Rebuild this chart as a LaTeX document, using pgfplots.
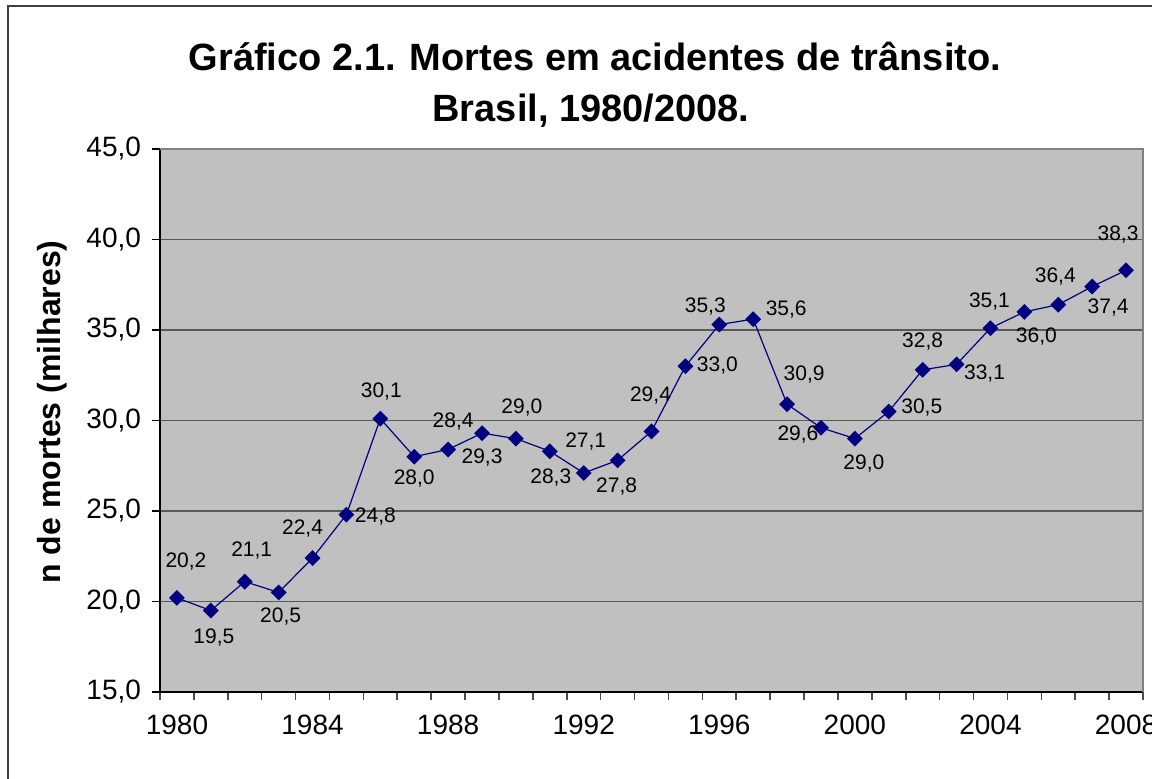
\documentclass[border=0pt]{standalone}
\usepackage{fontspec}
\setmainfont{Liberation Sans}
\usepackage{pgfplots}
\usepackage{pgfplotstable}
\pgfplotsset{compat=1.18}
\definecolor{plotbg}{HTML}{C0C0C0}
\definecolor{navy}{HTML}{000080}
\pgfplotstableread{
year val lab dx dy
1980 20.2 20,2 4.5 18
1981 19.5 19,5 1.5 -13.5
1982 21.1 21,1 3.5 15.5
1983 20.5 20,5 1 -12
1984 22.4 22,4 -5 15
1985 24.8 24,8 14.5 -1
1986 30.1 30,1 0.5 13.5
1987 28.0 28,0 0 -11
1988 28.4 28,4 2.5 14
1989 29.3 29,3 0 -12
1990 29.0 29,0 3 15.5
1991 28.3 28,3 0.5 -13
1992 27.1 27,1 1 15.5
1993 27.8 27,8 -0.5 -13
1994 29.4 29,4 -0.5 18
1995 33.0 33,0 16 0.5
1996 35.3 35,3 -7 9
1997 35.6 35,6 16.5 5
1998 30.9 30,9 8.5 15
1999 29.6 29,6 -11.5 -3.5
2000 29.0 29,0 4.5 -12.5
2001 30.5 30,5 16.5 2
2002 32.8 32,8 0 14
2003 33.1 33,1 14 -4.5
2004 35.1 35,1 -0.5 13.5
2005 36.0 36,0 6 -12.5
2006 36.4 36,4 -1.5 14
2007 37.4 37,4 8 -10.5
2008 38.3 38,3 -4 18
}\data
\begin{document}
\begin{tikzpicture}[x=1pt,y=1pt]
\path[use as bounding box] (0,0) rectangle (576,389);
\begin{scope}
\clip (0,0) rectangle (576,389);
\draw[line width=1pt, black!75] (3.75,-5) -- (3.75,386) -- (600,386);
\end{scope}
\node[font=\bfseries\fontsize{19}{22}\selectfont] at (297.5,360.5) {Gráfico 2.1. Mortes em acidentes de trânsito.};
\node[font=\bfseries\fontsize{19}{22}\selectfont] at (295.5,333.5) {Brasil, 1980/2008.};
\node[font=\bfseries\fontsize{16}{18}\selectfont, rotate=90] at (26,183) {n de mortes (milhares)};
\begin{axis}[
  at={(80pt,43pt)}, anchor=south west,
  scale only axis, width=491.5pt, height=271.5pt,
  xmin=1979.5, xmax=2008.5, ymin=15, ymax=45,
  axis background/.style={fill=plotbg},
  axis x line*=bottom, axis y line*=left,
  axis line style={line width=1pt, black},
  xtick={1980,1984,...,2008},
  minor xtick={1979.5,1980.5,...,2008.5},
  major x tick style={draw=none},
  minor x tick style={black!70, line width=0.8pt},
  minor tick length=4pt,
  ytick={15,20,...,45},
  major y tick style={black, line width=0.8pt},
  major tick length=4pt,
  tick align=outside,
  ymajorgrids,
  major grid style={black!65, line width=0.8pt},
  xticklabel={\pgfmathprintnumber[fixed,precision=0,1000 sep={}]{\tick}},
  yticklabel style={/pgf/number format/fixed, /pgf/number format/fixed zerofill, /pgf/number format/precision=1, /pgf/number format/use comma, xshift=-2pt},
  /pgf/number format/assume math mode=true,
  ticklabel style={font=\fontsize{14}{16}\selectfont, text=black},
  xticklabel style={yshift=-4pt},
  clip=false,
]
\draw[gray, line width=0.6pt] (rel axis cs:0,1) -- (rel axis cs:1,1) -- (rel axis cs:1,0);
\addplot[navy, line width=0.6pt, mark=square*, mark size=2.5pt, mark options={rotate=45, fill=navy, draw=navy}]
  table[x=year, y=val] {\data};
\addplot[draw=none, mark=none, point meta=explicit symbolic,
  visualization depends on={\thisrow{dx}\as\dx},
  visualization depends on={\thisrow{dy}\as\dy},
  nodes near coords,
  every node near coord/.append style={anchor=center, xshift=\dx pt, yshift=\dy pt, font=\fontsize{10.5}{12}\selectfont, text=black, inner sep=0pt}]
  table[x=year, y=val, meta=lab] {\data};
\end{axis}
\end{tikzpicture}
\end{document}
